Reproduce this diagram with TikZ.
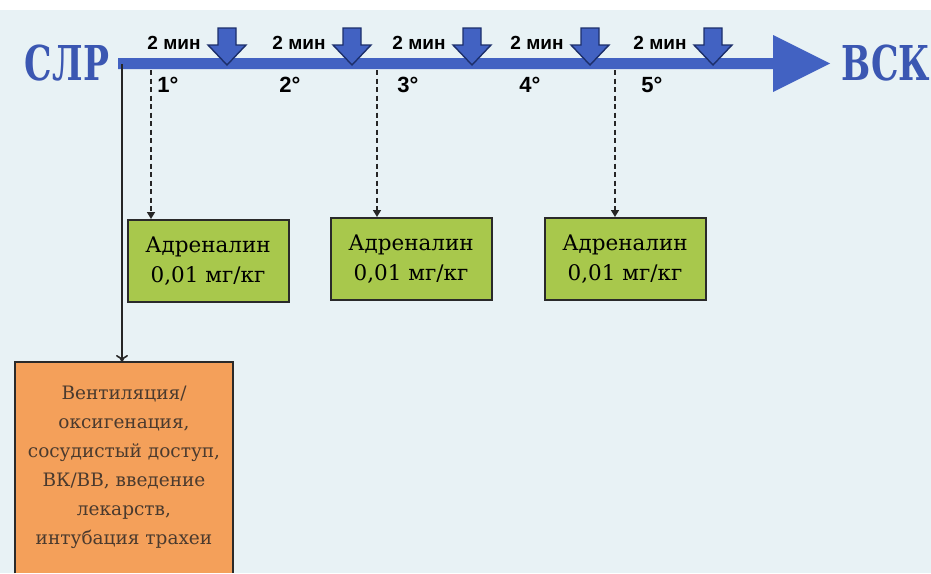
\documentclass[tikz,border=0pt]{standalone}
\usepackage{fontspec}
\setmainfont{DejaVu Serif}
\newfontfamily\titlefont[FakeStretch=0.72]{DejaVu Serif}
\newfontfamily\labfont{Liberation Sans}
\usetikzlibrary{arrows.meta}
\definecolor{bg}{HTML}{E8F2F5}
\definecolor{barblue}{HTML}{4262C2}
\definecolor{titleblue}{HTML}{3B57B2}
\definecolor{navy}{HTML}{1C2F6B}
\definecolor{limegreen}{HTML}{A8C84C}
\definecolor{orangefill}{HTML}{F4A05A}
\definecolor{boxline}{HTML}{2A2A2A}
\definecolor{orangetext}{HTML}{4A3A2E}
\tikzset{
  titletext/.style={text=titleblue, font=\titlefont\bfseries\fontsize{48}{48}\selectfont, inner sep=0pt},
  minlabel/.style={font=\labfont\bfseries\fontsize{19}{19}\selectfont, inner sep=0pt, text=black},
  deglabel/.style={font=\labfont\bfseries\fontsize{22}{22}\selectfont, inner sep=0pt, text=black},
  drugbox/.style={draw=boxline, line width=2pt, fill=limegreen, minimum width=161pt, minimum height=82pt,
    align=center, inner sep=0pt, font=\fontsize{21.5}{30}\selectfont, text=black},
  actbox/.style={fill=orangefill, minimum width=218pt, minimum height=211pt, anchor=north,
    align=center, inner sep=0pt, font=\fontsize{18.5}{29}\selectfont, text=orangetext},
  dasharr/.style={draw=black!85, line width=1.6pt, dash pattern=on 5pt off 3.5pt, -{Triangle[length=7pt,width=8pt]}},
  solidarr/.style={draw=black!85, line width=1.6pt, -{To[length=7pt,width=12pt]}},
  downarr/.style={fill=barblue, draw=navy, line width=1.4pt, line join=miter}
}
\begin{document}
\begin{tikzpicture}[x=1pt, y=-1pt]
\useasboundingbox (0,0) rectangle (931,573);
\fill[bg] (0,0) rectangle (931,573);
\fill[white] (0,0) rectangle (931,10);

% timeline bar with arrowhead
\fill[barblue] (118,58) -- (773,58) -- (773,35) -- (830,63.5) -- (773,92) -- (773,69) -- (118,69) -- cycle;

% titles
\node[titletext] (slr) at (67,63) {СЛР};
\node[titletext] (vsk) at (886,63) {ВСК};

% down arrows and labels
\foreach \cx/\i in {227/1, 352/2, 472/3, 590/4, 713/5} {
  \draw[downarr] (\cx-9,28) -- (\cx+9,28) -- (\cx+9,45) -- (\cx+19,45) -- (\cx,65) -- (\cx-19,45) -- (\cx-9,45) -- cycle;
  \node[minlabel] (min\i) at (\cx-53,43) {2 мин};
}

% cycle numbers
\node[deglabel] (c1) at (168,85) {1°};
\node[deglabel] (c2) at (290,85) {2°};
\node[deglabel] (c3) at (408,85) {3°};
\node[deglabel] (c4) at (530,85) {4°};
\node[deglabel] (c5) at (652,85) {5°};

% adrenaline boxes
\node[drugbox] (g1) at (208,261) {Адреналин\\0,01 мг/кг};
\node[drugbox] (g2) at (411,259) {Адреналин\\0,01 мг/кг};
\node[drugbox] (g3) at (625,259) {Адреналин\\0,01 мг/кг};

% action box
\node[actbox] (act) at (124,362) {Вентиляция/\\оксигенация,\\сосудистый доступ,\\ВК/ВВ, введение\\лекарств,\\интубация трахеи};
\draw[boxline, line width=2pt] (act.south west) -- (act.north west) -- (act.north east) -- (act.south east);

% connectors
\coordinate (d1) at (151,70);
\coordinate (d2) at (377,70);
\coordinate (d3) at (615,70);
\coordinate (barL) at (122,64);
\draw[dasharr] (d1) -- (d1 |- g1.north);
\draw[dasharr] (d2) -- (d2 |- g2.north);
\draw[dasharr] (d3) -- (d3 |- g3.north);
\draw[solidarr] (barL) -- (barL |- act.north);
\end{tikzpicture}
\end{document}
